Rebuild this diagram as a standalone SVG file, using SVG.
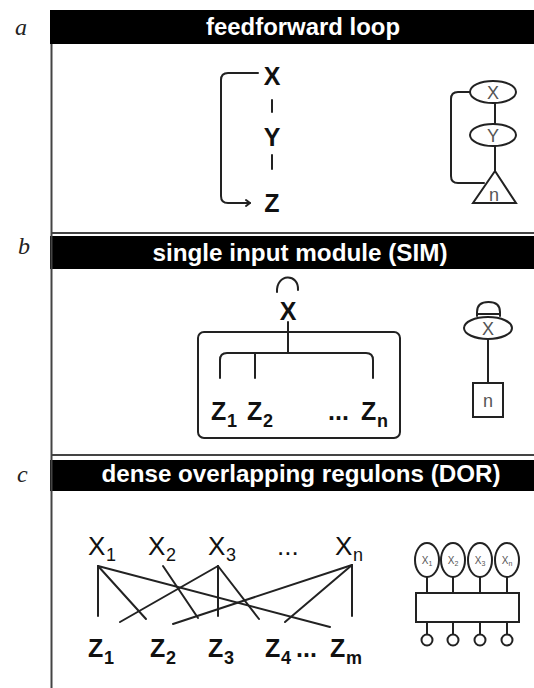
<svg xmlns="http://www.w3.org/2000/svg" width="534" height="688" viewBox="0 0 534 688">
<style>
.bar{fill:#000}
.hdr{font-family:"Liberation Sans",Arial,sans-serif;font-weight:bold;font-size:24px;fill:#fff;text-anchor:middle}
.sec{font-family:"Liberation Serif","Times New Roman",serif;font-style:italic;font-size:24px;fill:#222}
.bold{font-family:"Liberation Sans",Arial,sans-serif;font-weight:bold;font-size:25px;fill:#111}
.reg{font-family:"Liberation Sans",Arial,sans-serif;font-size:26px;fill:#111}
.subb{font-family:"Liberation Sans",Arial,sans-serif;font-weight:bold;font-size:18px;fill:#111}
.subr{font-family:"Liberation Sans",Arial,sans-serif;font-size:18px;fill:#111}
.inner{font-family:"Liberation Sans",Arial,sans-serif;font-size:18px;fill:#555;text-anchor:middle}
.tiny{font-family:"Liberation Sans",Arial,sans-serif;font-size:10px;fill:#555;text-anchor:middle}
.ln{fill:none;stroke:#222;stroke-width:2;stroke-linecap:round;stroke-linejoin:round}
.shape{fill:#fff;stroke:#222;stroke-width:2}
.frame{fill:none;stroke:#444;stroke-width:2}
</style>
<rect width="534" height="688" fill="#fff"/>
<g id="frames">
<rect class="bar" x="50" y="10" width="484" height="34"/>
<rect class="bar" x="50" y="236" width="484" height="33"/>
<rect class="bar" x="50" y="460" width="484" height="31"/>
<line class="frame" x1="51.5" y1="44" x2="51.5" y2="688"/>
<line class="frame" x1="51" y1="233" x2="534" y2="233"/>
<line class="frame" x1="51" y1="455" x2="534" y2="455"/>
<text class="hdr" x="303" y="35" textLength="194" lengthAdjust="spacingAndGlyphs">feedforward loop</text>
<text class="hdr" x="300" y="261" textLength="295" lengthAdjust="spacingAndGlyphs">single input module (SIM)</text>
<text class="hdr" x="301" y="482" textLength="399" lengthAdjust="spacingAndGlyphs">dense overlapping regulons (DOR)</text>
<text class="sec" x="15" y="35">a</text>
<text class="sec" x="18" y="254">b</text>
<text class="sec" x="17" y="482" font-size="20">c</text>
</g>
<g id="connectors">
<path class="ln" d="M258,73 L228,73 Q221,73 221,80 L221,196 Q221,203 228,203 L250,203"/>
<path class="ln" d="M246,200 L250,203 L246,206"/>
<line class="ln" x1="272" y1="100" x2="272" y2="112"/>
<line class="ln" x1="272" y1="155" x2="272" y2="169"/>
<line class="ln" x1="495" y1="103" x2="495" y2="124"/>
<line class="ln" x1="495" y1="146" x2="495" y2="171"/>
<path class="ln" d="M470,92 L458,92 Q451,92 451,99 L451,176 Q451,183 458,183 L484,183"/>
<path class="ln" d="M277,292 C276,273 299,273 298,290"/>
<line class="ln" x1="288" y1="322" x2="288" y2="353"/>
<path class="ln" d="M220,378 L220,360 Q220,353 227,353 L366,353 Q373,353 373,360 L373,378"/>
<line class="ln" x1="255" y1="353" x2="255" y2="378"/>
<path class="ln" d="M477,316 L477,312 Q477,302 488.5,302 Q500,302 500,312 L500,316 M477,314 L500,314"/>
<line class="ln" x1="488" y1="339" x2="488" y2="383"/>
<line class="ln" x1="98" y1="566" x2="98" y2="616"/>
<line class="ln" x1="98" y1="566" x2="146" y2="619"/>
<line class="ln" x1="98" y1="566" x2="330" y2="627"/>
<line class="ln" x1="163" y1="566" x2="198" y2="618"/>
<line class="ln" x1="218" y1="566" x2="218" y2="616"/>
<line class="ln" x1="218" y1="566" x2="120" y2="622"/>
<line class="ln" x1="218" y1="566" x2="259" y2="619"/>
<line class="ln" x1="352" y1="565" x2="352" y2="616"/>
<line class="ln" x1="352" y1="565" x2="173" y2="624"/>
<line class="ln" x1="352" y1="565" x2="285" y2="622"/>
<line class="ln" x1="427" y1="577" x2="427" y2="593"/>
<line class="ln" x1="453" y1="577" x2="453" y2="593"/>
<line class="ln" x1="480" y1="577" x2="480" y2="593"/>
<line class="ln" x1="507" y1="577" x2="507" y2="593"/>
<line class="ln" x1="427" y1="622" x2="427" y2="634"/>
<line class="ln" x1="453" y1="622" x2="453" y2="634"/>
<line class="ln" x1="480" y1="622" x2="480" y2="634"/>
<line class="ln" x1="507" y1="622" x2="507" y2="634"/>
</g>
<g id="ffl-X"><text class="bold" x="272" y="85" text-anchor="middle" font-size="26">X</text></g>
<g id="ffl-Y"><text class="bold" x="272" y="146" text-anchor="middle" font-size="26">Y</text></g>
<g id="ffl-Z"><text class="bold" x="272" y="212" text-anchor="middle" font-size="26">Z</text></g>
<g id="ffl-iconX"><ellipse class="shape" cx="493" cy="92" rx="23" ry="11"/><text class="inner" x="493" y="99">X</text></g>
<g id="ffl-iconY"><ellipse class="shape" cx="493" cy="135" rx="23" ry="11"/><text class="inner" x="493" y="142">Y</text></g>
<g id="ffl-iconN"><polygon class="shape" points="495,171 473,203 516,203"/><text class="inner" x="494" y="201">n</text></g>
<g id="sim-X"><text class="bold" x="288" y="320" text-anchor="middle">X</text></g>
<g id="sim-box">
<rect x="198" y="332" width="202" height="106" rx="6" fill="none" stroke="#222" stroke-width="2"/>
<text class="bold" x="211" y="420">Z</text><text class="subb" x="227" y="427">1</text>
<text class="bold" x="247" y="420">Z</text><text class="subb" x="263" y="427">2</text>
<text class="bold" x="328" y="420" font-size="20">...</text>
<text class="bold" x="361" y="420">Z</text><text class="subb" x="377" y="427">n</text>
</g>
<g id="sim-iconX"><ellipse class="shape" cx="488" cy="328" rx="24" ry="11"/><text class="inner" x="488" y="335">X</text></g>
<g id="sim-iconN"><rect class="shape" x="473" y="383" width="30" height="34"/><text class="inner" x="488" y="407">n</text></g>
<g id="dor-X1"><text class="reg" x="88" y="555">X</text><text class="subr" x="106" y="561">1</text></g>
<g id="dor-X2"><text class="reg" x="148" y="555">X</text><text class="subr" x="166" y="561">2</text></g>
<g id="dor-X3"><text class="reg" x="208" y="555">X</text><text class="subr" x="226" y="561">3</text></g>
<g id="dor-xdots"><text class="reg" x="277" y="555" font-size="22">...</text></g>
<g id="dor-Xn"><text class="reg" x="335" y="555">X</text><text class="subr" x="353" y="561">n</text></g>
<g id="dor-Z1"><text class="bold" x="88" y="657">Z</text><text class="subb" x="104" y="664">1</text></g>
<g id="dor-Z2"><text class="bold" x="150" y="657">Z</text><text class="subb" x="166" y="664">2</text></g>
<g id="dor-Z3"><text class="bold" x="208" y="657">Z</text><text class="subb" x="224" y="664">3</text></g>
<g id="dor-Z4"><text class="bold" x="265" y="657">Z</text><text class="subb" x="281" y="664">4</text></g>
<g id="dor-zdots"><text class="bold" x="296" y="657" font-size="20">...</text></g>
<g id="dor-Zm"><text class="bold" x="330" y="657">Z</text><text class="subb" x="346" y="664">m</text></g>
<g id="dor-icon">
<ellipse class="shape" cx="427" cy="560" rx="12" ry="17"/><text class="tiny" x="427" y="564">X<tspan font-size="7" dy="2">1</tspan></text>
<ellipse class="shape" cx="453" cy="560" rx="12" ry="17"/><text class="tiny" x="453" y="564">X<tspan font-size="7" dy="2">2</tspan></text>
<ellipse class="shape" cx="480" cy="560" rx="12" ry="17"/><text class="tiny" x="480" y="564">X<tspan font-size="7" dy="2">3</tspan></text>
<ellipse class="shape" cx="507" cy="560" rx="12" ry="17"/><text class="tiny" x="507" y="564">X<tspan font-size="7" dy="2">n</tspan></text>
<rect class="shape" x="416" y="593" width="103" height="29"/>
<circle class="shape" cx="427" cy="640" r="5.5"/>
<circle class="shape" cx="453" cy="640" r="5.5"/>
<circle class="shape" cx="480" cy="640" r="5.5"/>
<circle class="shape" cx="507" cy="640" r="5.5"/>
</g>
</svg>
